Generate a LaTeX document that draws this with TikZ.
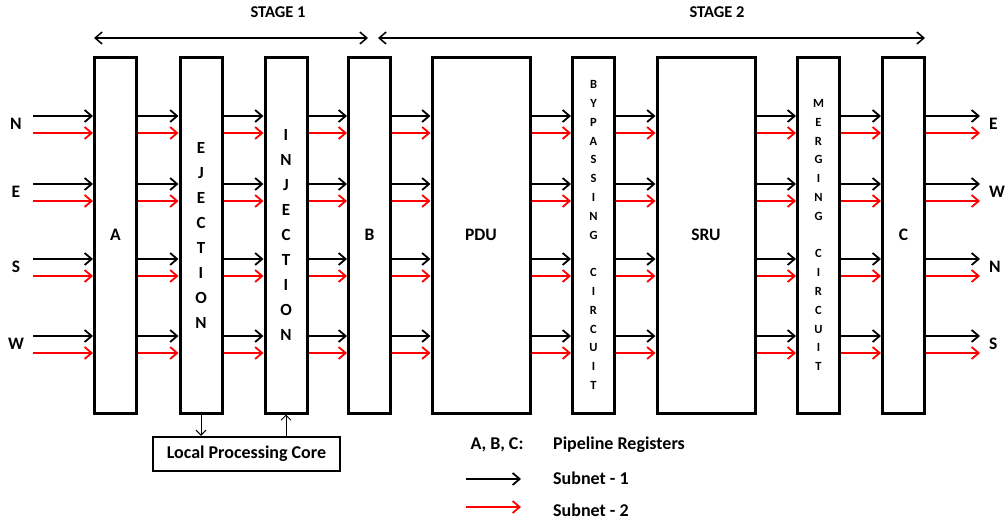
\documentclass[tikz,border=0pt]{standalone}
\usepackage{fontspec}
\setmainfont{Carlito}
\usetikzlibrary{arrows.meta}

\begin{document}
\begin{tikzpicture}[
    x=1pt, y=-1pt,
    >={Straight Barb[length=7pt,width=12pt]},
    font=\bfseries\fontsize{17.5}{20}\selectfont,
    blk/.style={draw, line width=3pt, minimum height=356pt, inner sep=0pt},
    narrow/.style={blk, minimum width=42pt},
    wide/.style={blk, minimum width=98pt},
    tall/.style={align=center, font=\bfseries\fontsize{17}{25}\selectfont},
    small/.style={align=center, font=\bfseries\fontsize{12.5}{18.8}\selectfont},
    lbl/.style={inner sep=0pt},
    sub1/.style={->, line width=1.8pt, black},
    sub2/.style={->, line width=1.8pt, red},
    thinarr/.style={->, line width=1pt, >={Straight Barb[length=5pt,width=10pt]}},
]
    \useasboundingbox (0,0) rectangle (1007,523);
    % Stages
    \node[lbl, font=\bfseries\fontsize{16.5}{20}\selectfont] (st1) at (278,12) {STAGE 1};
    \node[lbl, font=\bfseries\fontsize{16.5}{20}\selectfont] (st2) at (717,12) {STAGE 2};
    \coordinate (s1a) at (94,38);
    \coordinate (s1b) at (368,38);
    \coordinate (s2a) at (378,38);
    \coordinate (s2b) at (925,38);
    \draw[<->, line width=1.5pt] (s1a) -- (s1b);
    \draw[<->, line width=1.5pt] (s2a) -- (s2b);
    % Pipeline blocks
    \node[narrow] (rA) at (115.5,235) {A};
    \node[narrow, tall] (ej) at (201,235) {E\\J\\E\\C\\T\\I\\O\\N};
    \node[narrow, tall] (inj) at (286,235) {I\\N\\J\\E\\C\\T\\I\\O\\N};
    \node[narrow] (rB) at (369.5,235) {B};
    \node[wide] (pdu) at (481,235) {PDU};
    \node[narrow, small] (byp) at (593.5,235) {B\\Y\\P\\A\\S\\S\\I\\N\\G\\[18.8pt]C\\I\\R\\C\\U\\I\\T};
    \node[wide] (sru) at (706,235) {SRU};
    \node[narrow, small] (mrg) at (818.5,235) {M\\E\\R\\G\\I\\N\\G\\[18.8pt]C\\I\\R\\C\\U\\I\\T};
    \node[narrow] (rC) at (903.5,235) {C};
    % Links between blocks
    \foreach \y in {116,184,259,336} {
        \foreach \a/\b in {rA/ej, ej/inj, inj/rB, rB/pdu, pdu/byp, byp/sru, sru/mrg, mrg/rC} {
            \draw[sub1] (\a.east |- 0,\y) -- (\b.west |- 0,\y);
            \draw[sub2] (\a.east |- 0,\y+17) -- (\b.west |- 0,\y+17);
        }
    }
    % Inputs
    \foreach \y/\d in {116/N,184/E,259/S,336/W} {
        \node[lbl] (in\d) at (16,\y+8) {\d};
        \coordinate (src\d) at (33,\y);
        \draw[sub1] (src\d) -- (rA.west |- src\d);
        \draw[sub2] ([yshift=-17pt]src\d) -- (rA.west |- 0,\y+17);
    }
    % Outputs
    \foreach \y/\d in {116/E,184/W,259/N,336/S} {
        \node[lbl, anchor=west] (out\d) at (989,\y+8) {\d};
        \coordinate (dst\d) at (980,\y);
        \draw[sub1] (rC.east |- dst\d) -- (dst\d);
        \draw[sub2] (rC.east |- 0,\y+17) -- ([yshift=-17pt]dst\d);
    }
    % Local core
    \node[draw, line width=2.5pt, minimum width=187pt, minimum height=34pt, inner sep=0pt, font=\bfseries\fontsize{18}{20}\selectfont] (lpc) at (246.5,454) {Local Processing Core};
    \draw[thinarr] (ej.south) -- (ej.south |- lpc.north);
    \draw[thinarr] (inj.south |- lpc.north) -- (inj.south);
    % Legend
    \node[lbl, font=\bfseries\fontsize{18}{20}\selectfont] (abc) at (497,445) {A, B, C:};
    \node[lbl, anchor=west, font=\bfseries\fontsize{18}{20}\selectfont] (preg) at (553,445) {Pipeline Registers};
    \coordinate (k1) at (466,479);
    \coordinate (k2) at (466,507);
    \draw[sub1] (k1) -- ++(55,0);
    \draw[sub2] (k2) -- ++(55,0);
    \node[lbl, anchor=west, font=\bfseries\fontsize{18}{20}\selectfont] (leg1) at (553,478) {Subnet - 1};
    \node[lbl, anchor=west, font=\bfseries\fontsize{18}{20}\selectfont] (leg2) at (553,510) {Subnet - 2};
\end{tikzpicture}
\end{document}
